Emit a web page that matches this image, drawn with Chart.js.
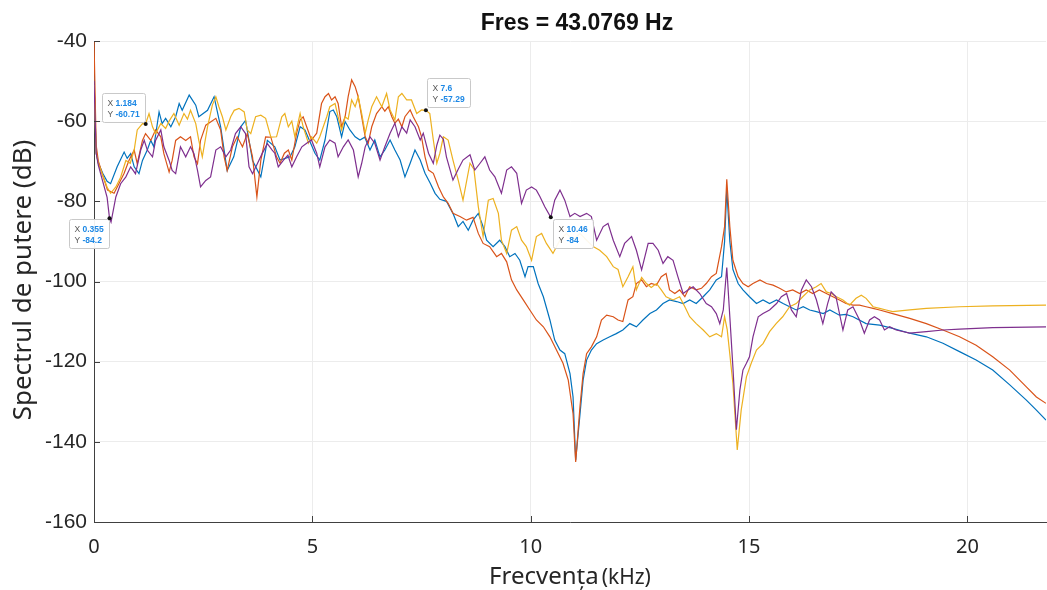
<!DOCTYPE html>
<html lang="ro">
<head>
<meta charset="UTF-8">
<title>Fres = 43.0769 Hz</title>
<script src="https://cdn.jsdelivr.net/npm/chart.js"></script>
<style>
  html, body { margin: 0; padding: 0; background: #fff; }
  #wrap { width: 1047px; height: 590px; }
</style>
</head>
<body>
<div id="wrap"><canvas id="spectrum" width="1047" height="590"></canvas></div>
<script>
// spectrum readings, [frecventa kHz, putere dB]
const blueSpectrum = [
  [0,-49],[0.05,-68],[0.1,-70.5],[0.2,-73],[0.3,-75],[0.38,-75.6],[0.53,-71.4],[0.69,-67.7],[0.76,-69.3],[0.84,-68.1],
  [0.92,-71.4],[1.03,-73.1],[1.11,-69.8],[1.22,-67.2],[1.3,-64.8],[1.37,-66.4],[1.49,-57.7],[1.56,-60.6],[1.64,-59.3],[1.76,-61.4],
  [1.87,-58.9],[1.95,-55.6],[2.02,-57.3],[2.18,-53.5],[2.33,-56],[2.4,-58.9],[2.6,-57.3],[2.75,-53.9],[2.9,-61.4],[3.05,-72.3],
  [3.2,-68.9],[3.36,-61.4],[3.47,-59.8],[3.63,-69.8],[3.82,-73.9],[3.97,-64.8],[4.14,-66.4],[4.26,-69.7],[4.49,-68.9],[4.6,-66.4],
  [4.72,-61.4],[4.83,-62.2],[5.06,-68],[5.17,-69.7],[5.29,-64.7],[5.4,-57.6],[5.48,-57.2],[5.56,-58.9],[5.67,-63.9],[5.75,-60.1],
  [5.86,-62.2],[5.98,-63.9],[6.09,-64.7],[6.2,-64],[6.32,-67.2],[6.43,-64.7],[6.55,-68.9],[6.66,-67.2],[6.78,-64.7],[6.89,-67.2],
  [7.01,-69.7],[7.12,-73.9],[7.24,-70.5],[7.35,-67.2],[7.47,-69.7],[7.58,-73],[7.7,-75.5],[7.81,-78],[7.92,-79.5],[8.07,-80],
  [8.22,-83],[8.34,-86.3],[8.45,-85],[8.57,-87.2],[8.68,-84.7],[8.8,-83],[8.9,-86],[8.99,-89.7],[9.14,-91.3],[9.29,-89.7],
  [9.41,-91.3],[9.52,-93.8],[9.64,-93],[9.75,-94.7],[9.87,-98.8],[9.94,-96.3],[10.06,-96.3],[10.17,-100.5],[10.29,-103.8],[10.44,-109.6],
  [10.55,-114.6],[10.67,-117.1],[10.78,-118],[10.9,-123],[10.97,-128.8],[11.03,-144.6],[11.13,-133],[11.2,-124.6],[11.28,-119.6],[11.39,-117.1],
  [11.51,-115.5],[11.66,-114.6],[11.81,-113.8],[11.96,-113],[12.11,-112.1],[12.27,-110.5],[12.42,-111.3],[12.57,-109.6],[12.73,-108],[12.88,-107.1],
  [13.03,-105.5],[13.18,-104.6],[13.34,-105],[13.49,-105.5],[13.64,-104.6],[13.79,-105.5],[13.95,-103.8],[14.1,-102.1],[14.25,-99.6],[14.37,-98.8],
  [14.44,-90],[14.49,-77],[14.56,-90],[14.63,-97],[14.75,-100.5],[14.86,-102.1],[15.01,-103.8],[15.17,-105.5],[15.32,-104.6],[15.47,-105.5],
  [15.63,-104.6],[15.78,-105.5],[15.93,-106.3],[16.08,-107.1],[16.24,-106.3],[16.39,-107.1],[16.54,-107.5],[16.7,-108],[16.85,-107.1],[17.07,-108.4],
  [17.22,-108.2],[17.38,-108.8],[17.68,-110.5],[17.99,-110.9],[18.29,-111.7],[18.68,-112.9],[19.06,-113.8],[19.44,-115.4],[19.82,-117.5],[20.2,-119.6],
  [20.58,-122.1],[20.97,-125.8],[21.35,-129.6],[21.58,-132.1],[21.8,-134.6]
];

const orangeSpectrum = [
  [0,-40],[0.05,-66],[0.1,-70],[0.2,-73.5],[0.31,-77.2],[0.46,-78],[0.57,-75.6],[0.69,-73],[0.8,-69.8],[0.92,-67.2],
  [0.99,-70.6],[1.11,-64.8],[1.18,-63.1],[1.3,-64.8],[1.41,-62.2],[1.53,-63.9],[1.6,-68.1],[1.72,-72.7],[1.79,-69.8],[1.87,-64.8],
  [1.98,-63.9],[2.1,-64.8],[2.21,-63.9],[2.29,-68.9],[2.37,-70.6],[2.44,-64.8],[2.56,-61],[2.67,-60.2],[2.79,-59.3],[2.9,-62.2],
  [2.98,-68.9],[3.05,-72.3],[3.17,-66.4],[3.28,-63.9],[3.4,-66.4],[3.51,-63.1],[3.63,-68.9],[3.73,-78.9],[3.82,-69.8],[3.93,-63.9],
  [4.05,-64],[4.18,-68.9],[4.26,-70.5],[4.36,-68],[4.45,-67.2],[4.53,-69.7],[4.64,-63],[4.72,-59.7],[4.79,-58.9],[4.87,-61.4],
  [4.98,-64.7],[5.1,-63],[5.21,-55.6],[5.29,-53.9],[5.37,-53.1],[5.44,-54.7],[5.52,-53.9],[5.59,-55.6],[5.67,-61.4],[5.75,-58.9],
  [5.82,-53.9],[5.9,-49.7],[5.98,-51.4],[6.05,-53.9],[6.13,-58.9],[6.21,-63.9],[6.28,-65.5],[6.36,-61.4],[6.47,-58.1],[6.59,-56.4],
  [6.66,-57.5],[6.74,-56.4],[6.82,-58.9],[6.89,-60.5],[6.97,-59.5],[7.05,-61.4],[7.12,-58.9],[7.24,-57.2],[7.31,-58.9],[7.43,-61.4],
  [7.5,-63.9],[7.58,-68.9],[7.66,-72.2],[7.77,-73],[7.89,-76.4],[8.0,-78.9],[8.11,-80.5],[8.22,-83],[8.38,-83.8],[8.53,-84.7],
  [8.68,-84],[8.8,-88],[8.91,-90.5],[9.06,-91.3],[9.22,-93.8],[9.33,-93],[9.45,-95.1],[9.56,-99.6],[9.68,-102.1],[9.83,-104.6],
  [9.98,-107.1],[10.13,-109.6],[10.29,-111.3],[10.44,-113.8],[10.59,-117.1],[10.74,-120.4],[10.86,-124.6],[10.97,-133],[11.03,-145],[11.13,-131],
  [11.2,-123],[11.28,-118],[11.39,-116.3],[11.51,-113.8],[11.62,-109.6],[11.74,-108.4],[11.89,-108.8],[12.0,-109.6],[12.11,-110],[12.23,-104.6],
  [12.34,-103.8],[12.42,-100.5],[12.54,-99.6],[12.65,-101.3],[12.76,-100.5],[12.88,-100.9],[12.99,-98.8],[13.1,-98],[13.18,-102.1],[13.3,-103],
  [13.41,-102.1],[13.53,-103.8],[13.64,-101.3],[13.79,-102.1],[13.91,-101.7],[14.02,-100.5],[14.14,-98.8],[14.25,-98],[14.37,-91.3],[14.44,-86.3],
  [14.49,-74.5],[14.56,-86.3],[14.63,-94.7],[14.75,-98.8],[14.86,-100.5],[14.98,-101.3],[15.09,-100.5],[15.25,-99.6],[15.4,-100.5],[15.55,-100.9],
  [15.7,-101.7],[15.85,-102.6],[16.0,-102.1],[16.16,-103],[16.31,-102.1],[16.46,-103],[16.61,-102.1],[16.77,-103],[16.92,-103.8],[17.07,-104.6],
  [17.22,-105.5],[17.38,-105.9],[17.53,-105.9],[17.68,-106.3],[17.84,-106.7],[17.99,-107.1],[18.29,-108],[18.68,-109.2],[19.06,-110.5],[19.44,-112.1],
  [19.82,-113.8],[20.2,-115.9],[20.58,-118.8],[20.97,-122.1],[21.35,-126.3],[21.58,-128.8],[21.8,-130.4]
];

const yellowSpectrum = [
  [0,-51],[0.05,-68],[0.1,-70.5],[0.2,-73.5],[0.3,-76.5],[0.38,-78],[0.5,-76.4],[0.61,-74],[0.73,-69.8],[0.83,-70.5],
  [0.92,-67.2],[0.99,-62.2],[1.11,-60.6],[1.18,-60.7],[1.26,-58.1],[1.34,-61.4],[1.41,-63.1],[1.53,-60.6],[1.64,-61.8],[1.72,-60],
  [1.83,-58.1],[1.95,-61],[2.06,-58.1],[2.14,-59.5],[2.21,-57.3],[2.33,-60.6],[2.4,-64.8],[2.48,-68.9],[2.6,-61.4],[2.71,-56],
  [2.79,-53.9],[2.86,-56.4],[2.94,-58.9],[3.02,-62.2],[3.13,-58.9],[3.21,-57.3],[3.32,-56.8],[3.44,-57.7],[3.51,-62.2],[3.59,-63.1],
  [3.7,-58.9],[3.82,-58.5],[3.93,-59.3],[4.05,-64],[4.18,-63.9],[4.3,-58.9],[4.37,-58.1],[4.45,-61.4],[4.53,-60],[4.6,-63.9],
  [4.72,-58.1],[4.79,-61.4],[4.91,-65.5],[4.98,-63.9],[5.1,-65.5],[5.17,-63.9],[5.25,-61.4],[5.33,-58.9],[5.4,-56.4],[5.52,-55.6],
  [5.59,-58.9],[5.67,-62.2],[5.75,-58.9],[5.82,-59.5],[5.9,-54.7],[5.98,-56.4],[6.05,-53.9],[6.13,-58.1],[6.21,-63],[6.28,-59.7],
  [6.36,-56.4],[6.47,-53.9],[6.59,-56.4],[6.7,-53.1],[6.78,-57.2],[6.89,-59.7],[6.97,-53.9],[7.05,-53.1],[7.16,-54.7],[7.27,-54.7],
  [7.39,-58.1],[7.5,-57.2],[7.6,-57.29],[7.69,-58.1],[7.77,-64.7],[7.85,-70.5],[7.92,-68],[8.0,-63.9],[8.11,-64.7],[8.22,-69.7],
  [8.34,-74.7],[8.45,-79.7],[8.61,-70.5],[8.7,-72],[8.8,-81.3],[8.91,-88.8],[9.03,-79.7],[9.14,-79.3],[9.26,-83],[9.33,-89.7],
  [9.45,-93],[9.56,-87.2],[9.68,-86.3],[9.79,-89.7],[9.9,-91.3],[10.02,-94.7],[10.13,-88.8],[10.25,-88],[10.36,-90.5],[10.51,-93],
  [10.67,-89.7],[10.82,-88],[10.97,-89.7],[11.13,-88],[11.28,-89.7],[11.43,-91.3],[11.58,-92.2],[11.74,-93.8],[11.89,-96.3],[12.0,-97],
  [12.11,-101.3],[12.23,-98.8],[12.34,-96.3],[12.42,-102.1],[12.54,-99],[12.65,-100.5],[12.76,-101.5],[12.88,-100.5],[12.99,-102.1],[13.1,-103.8],
  [13.26,-104.6],[13.41,-103.8],[13.53,-106.3],[13.64,-108.8],[13.79,-110.5],[13.95,-112.1],[14.1,-113.8],[14.25,-113],[14.37,-113.8],[14.44,-108.8],
  [14.5,-112],[14.63,-125.4],[14.73,-142],[14.82,-132.1],[14.94,-123.8],[15.05,-120.4],[15.17,-117.1],[15.32,-115.5],[15.47,-112.5],[15.62,-110.5],
  [15.77,-108.8],[15.93,-106.3],[16.08,-105.5],[16.23,-103.8],[16.39,-102.1],[16.54,-101.3],[16.65,-100.5],[16.77,-102.6],[16.88,-103],[17.0,-103.8],
  [17.15,-104.6],[17.3,-105.9],[17.45,-104.2],[17.57,-103.4],[17.68,-104.2],[17.84,-106.3],[17.99,-106.7],[18.14,-107.1],[18.29,-107.5],[18.68,-107.1],
  [19.06,-106.7],[19.82,-106.3],[20.58,-106.1],[21.8,-105.9]
];

const purpleSpectrum = [
  [0,-50],[0.05,-68],[0.1,-71],[0.2,-75],[0.3,-79],[0.355,-84.2],[0.39,-85.2],[0.5,-78.9],[0.61,-75.6],[0.73,-73.9],
  [0.84,-71.4],[0.95,-73.1],[1.07,-67.2],[1.15,-64.8],[1.22,-67.2],[1.34,-68.9],[1.41,-64.8],[1.53,-62.2],[1.6,-66.4],[1.72,-69.8],
  [1.79,-72.3],[1.87,-73.1],[1.98,-66.4],[2.1,-68.9],[2.21,-66.4],[2.29,-68.1],[2.37,-72.3],[2.44,-76.4],[2.56,-74.8],[2.67,-73.9],
  [2.79,-67.2],[2.9,-66.4],[3.02,-68.9],[3.13,-67.2],[3.24,-63.1],[3.36,-61.4],[3.47,-63.1],[3.55,-71.4],[3.63,-73.1],[3.74,-70.6],
  [3.85,-68.1],[3.97,-65.6],[4.08,-67.2],[4.14,-68],[4.22,-71.4],[4.34,-69.7],[4.44,-68.5],[4.53,-71.4],[4.64,-68.9],[4.76,-66.4],
  [4.87,-65.5],[4.98,-64.7],[5.1,-68],[5.17,-71.4],[5.29,-66.4],[5.4,-64.7],[5.52,-65.5],[5.59,-68.9],[5.71,-66.4],[5.82,-64.7],
  [5.94,-67.2],[6.05,-73.9],[6.13,-70.5],[6.21,-66.4],[6.32,-63.9],[6.43,-65.5],[6.55,-69.7],[6.66,-66.4],[6.78,-63],[6.89,-60.5],
  [6.97,-63.9],[7.05,-61.4],[7.16,-63],[7.24,-59.7],[7.35,-61.4],[7.47,-64.7],[7.54,-63],[7.66,-68],[7.77,-70.5],[7.85,-66],
  [7.92,-63.5],[8.0,-64.5],[8.07,-68.9],[8.22,-74.7],[8.34,-72],[8.45,-69.7],[8.61,-68.4],[8.72,-72.2],[8.84,-70.5],[8.95,-68.9],
  [9.06,-72.2],[9.18,-73.9],[9.33,-78],[9.45,-72.2],[9.56,-71.4],[9.68,-73],[9.79,-80.5],[9.9,-77.2],[10.02,-76.4],[10.13,-77.2],
  [10.21,-78.8],[10.32,-81.3],[10.46,-84],[10.55,-79.7],[10.67,-77.2],[10.78,-79.7],[10.9,-83.8],[11.01,-83],[11.13,-83.8],[11.28,-83],
  [11.39,-83.8],[11.51,-89.7],[11.66,-86.3],[11.77,-85.5],[11.89,-89.7],[12.04,-93.8],[12.15,-90.5],[12.31,-88.8],[12.42,-92.2],[12.54,-97.1],
  [12.69,-90.5],[12.8,-90.5],[12.92,-92.2],[13.03,-95.5],[13.14,-93.8],[13.26,-94.7],[13.37,-98.8],[13.49,-103],[13.6,-102.1],[13.72,-101.3],
  [13.87,-103],[14.02,-105.5],[14.14,-106.3],[14.25,-108],[14.33,-110.5],[14.41,-107.1],[14.49,-96.5],[14.56,-108.8],[14.63,-121.3],[14.71,-137],
  [14.79,-127.1],[14.86,-122.1],[14.94,-120.4],[15.01,-118.8],[15.09,-113.8],[15.21,-108.8],[15.32,-108],[15.47,-107.1],[15.63,-105.5],[15.74,-103.8],
  [15.86,-103],[15.97,-107.1],[16.08,-108.8],[16.2,-102.1],[16.31,-99.6],[16.43,-101.3],[16.54,-104.5],[16.69,-110.5],[16.8,-105.5],[16.88,-102.6],
  [16.99,-103.8],[17.15,-112.1],[17.26,-107.1],[17.38,-106.3],[17.53,-109.6],[17.64,-112.9],[17.76,-109.6],[17.87,-108.8],[17.99,-109.6],[18.1,-112.1],
  [18.22,-111.3],[18.37,-112.1],[18.68,-112.9],[19.06,-112.5],[19.44,-112.1],[19.82,-111.9],[20.58,-111.5],[21.8,-111.3]
];

const xTickValues = [0, 5, 10, 15, 20];
const yTickValues = [-160, -140, -120, -100, -80, -60, -40];

// data tips (cursor markers) shown in the figure
const tipFreq = [0.355, 1.184, 7.6, 10.46];
const tipPower = [-84.2, -60.71, -57.29, -84];
const tipTextX = ['0.355', '1.184', '7.6', '10.46'];
const tipTextY = ['-84.2', '-60.71', '-57.29', '-84'];

const titleText = 'Fres = 43.0769 Hz';
const yAxisText = 'Spectrul de putere (dB)';

const toPoints = arr => arr.map(([f, db]) => ({ x: f, y: db }));

const axisColor = '#404040';

// titles, inward ticks and data tips, matlab style
const figureExtras = {
    id: 'figureExtras',
    afterDatasetsDraw(chart) {
        const { ctx, scales } = chart;
        // data tips
        const corner = ['bl', 'tl', 'tr', 'br'];
        tipFreq.forEach((f, i) => {
            const px = scales.x.getPixelForValue(f);
            const py = scales.y.getPixelForValue(tipPower[i]);
            ctx.save();
            ctx.font = '8.5px "Liberation Sans", Arial, sans-serif';
            const wx = ctx.measureText('X ').width;
            ctx.font = 'bold 8.5px "Liberation Sans", Arial, sans-serif';
            const wv = Math.max(ctx.measureText(tipTextX[i]).width, ctx.measureText(tipTextY[i]).width);
            const w = Math.round(wx + wv + 11), h = 29;
            let bx, by;
            if (corner[i] === 'bl') { bx = px - w - 1; by = py + 1; }
            else if (corner[i] === 'tl') { bx = px - w - 1; by = py - h - 2; }
            else if (corner[i] === 'tr') { bx = px + 1; by = py - h - 3; }
            else { bx = px + 2; by = py + 2; }
            bx = Math.round(bx) + 0.5; by = Math.round(by) + 0.5;
            ctx.fillStyle = 'rgba(255,255,255,0.92)';
            ctx.strokeStyle = '#c9c9c9';
            ctx.lineWidth = 1;
            ctx.beginPath();
            ctx.roundRect(bx, by, w, h, 2);
            ctx.fill();
            ctx.stroke();
            ctx.textBaseline = 'alphabetic';
            ctx.font = '8.5px "Liberation Sans", Arial, sans-serif';
            ctx.fillStyle = '#555';
            ctx.fillText('X', bx + 5, by + 12);
            ctx.fillText('Y', bx + 5, by + 23);
            ctx.font = 'bold 8.5px "Liberation Sans", Arial, sans-serif';
            ctx.fillStyle = '#1d88e5';
            ctx.fillText(tipTextX[i], bx + 5 + wx, by + 12);
            ctx.fillText(tipTextY[i], bx + 5 + wx, by + 23);
            ctx.fillStyle = '#111';
            ctx.beginPath();
            ctx.arc(px, py, 2, 0, Math.PI * 2);
            ctx.fill();
            ctx.restore();
        });
    },
    afterDraw(chart) {
        const { ctx, chartArea, scales } = chart;
        ctx.save();
        // inward ticks
        ctx.strokeStyle = axisColor;
        ctx.lineWidth = 1;
        ctx.beginPath();
        yTickValues.forEach(v => {
            const y = Math.round(scales.y.getPixelForValue(v)) + 0.5;
            ctx.moveTo(chartArea.left, y);
            ctx.lineTo(chartArea.left + 6, y);
        });
        xTickValues.forEach(v => {
            const x = Math.round(scales.x.getPixelForValue(v)) + 0.5;
            ctx.moveTo(x, chartArea.bottom);
            ctx.lineTo(x, chartArea.bottom - 6);
        });
        ctx.stroke();

        // title
        ctx.fillStyle = '#111';
        ctx.textAlign = 'center';
        ctx.textBaseline = 'alphabetic';
        ctx.font = 'bold 23px "Liberation Sans Narrow", "Arial Narrow", "Liberation Sans", sans-serif';
        ctx.fillText(titleText, (chartArea.left + chartArea.right) / 2 + 7, 30);

        // y axis label
        ctx.fillStyle = '#262626';
        ctx.save();
        ctx.translate(31, 280);
        ctx.rotate(-Math.PI / 2);
        ctx.font = '26px "Noto Sans", "Open Sans", sans-serif';
        ctx.textBaseline = 'alphabetic';
        ctx.fillText(yAxisText, 0, 0);
        ctx.restore();

        // x axis label: bigger word, smaller unit
        ctx.textAlign = 'left';
        ctx.font = '24px "Noto Sans", "Open Sans", sans-serif';
        const word = 'Frecvența';
        const ww = ctx.measureText(word).width;
        ctx.fillText(word, 489, 584);
        ctx.font = '21px "Noto Sans", "Open Sans", sans-serif';
        ctx.fillText('(kHz)', 489 + ww + 3, 584);
        ctx.restore();
    }
};

new Chart(document.getElementById('spectrum'), {
    type: 'line',
    data: {
        datasets: [
            { label: 'semnal 1', data: toPoints(blueSpectrum), borderColor: '#0072BD', order: 4 },
            { label: 'semnal 2', data: toPoints(orangeSpectrum), borderColor: '#D95319', order: 3 },
            { label: 'semnal 3', data: toPoints(yellowSpectrum), borderColor: '#EDB120', order: 2 },
            { label: 'semnal 4', data: toPoints(purpleSpectrum), borderColor: '#7E2F8E', order: 1 }
        ]
    },
    options: {
        responsive: false,
        animation: false,
        devicePixelRatio: 1,
        elements: {
            point: { radius: 0, hoverRadius: 0 },
            line: { borderWidth: 1.2, tension: 0, fill: false }
        },
        layout: { padding: { top: 41, right: 1, left: 0, bottom: 0 } },
        plugins: {
            legend: { display: false },
            tooltip: { enabled: false }
        },
        scales: {
            x: {
                type: 'linear',
                min: 0,
                max: 21.8,
                afterBuildTicks: s => { s.ticks = xTickValues.map(v => ({ value: v })); },
                afterFit: s => { s.height = 68; },
                grid: { color: '#ececec', drawTicks: false },
                border: { color: axisColor, width: 1 },
                ticks: {
                    padding: 13,
                    color: '#262626',
                    font: { family: '"Noto Sans", "Open Sans", sans-serif', size: 20 }
                }
            },
            y: {
                min: -160,
                max: -40,
                afterBuildTicks: s => { s.ticks = yTickValues.map(v => ({ value: v })); },
                afterFit: s => { s.width = 94; },
                grid: { color: '#ececec', drawTicks: false },
                border: { color: axisColor, width: 1 },
                ticks: {
                    padding: 7,
                    color: '#262626',
                    font: { family: '"Liberation Sans", Arial, sans-serif', size: 21 }
                }
            }
        }
    },
    plugins: [figureExtras]
});
</script>
</body>
</html>
